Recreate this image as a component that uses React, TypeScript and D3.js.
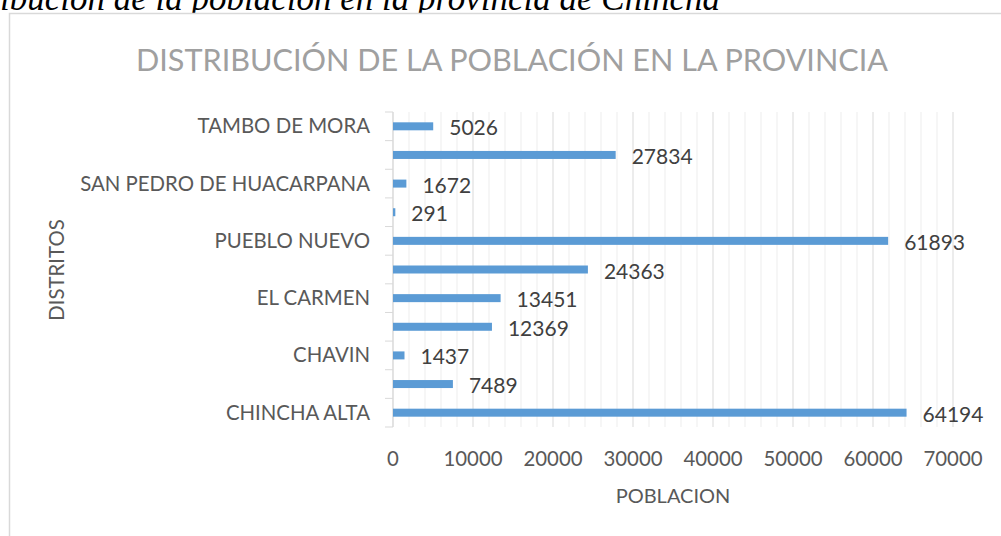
import React from "react";
import * as d3 from "d3";

// districts bottom -> top as in the source chart
const districts = [
  "CHINCHA ALTA",
  "ALTO LARAN",
  "CHAVIN",
  "CHINCHA BAJA",
  "EL CARMEN",
  "GROCIO PRADO",
  "PUEBLO NUEVO",
  "SAN JUAN DE YANAC",
  "SAN PEDRO DE HUACARPANA",
  "SUNAMPE",
  "TAMBO DE MORA",
];
const population = [64194, 7489, 1437, 12369, 13451, 24363, 61893, 291, 1672, 27834, 5026];
const xTicks = [0, 10000, 20000, 30000, 40000, 50000, 60000, 70000];

const title = "DISTRIBUCIÓN DE LA POBLACIÓN EN LA PROVINCIA";
const caption = "ibución de la población en la provincia de Chincha";

const W = 1001;
const H = 536;
const plot = { left: 393, right: 953, top: 112, bottom: 427 };
const font = "Lato, 'Open Sans', sans-serif";

export default function App() {
  const x = d3.scaleLinear().domain([0, 70000]).range([plot.left, plot.right]);
  const y = d3
    .scaleBand()
    .domain(districts.slice().reverse())
    .range([plot.top, plot.bottom])
    .paddingInner(0)
    .paddingOuter(0);
  const barH = 8;
  const minor = d3.range(0, 70001, 2000);
  const boundaries = d3.range(districts.length + 1).map((i) => plot.top + i * y.bandwidth());

  return (
    <>
      <style>{`body{margin:0}`}</style>
      <svg width={W} height={H} style={{ display: "block", background: "#fff" }}>
        {/* caption of the page, cut at the top like in the source */}
        <text
          x={0}
          y={10}
          fontFamily="'Liberation Serif', 'Times New Roman', serif"
          fontStyle="italic"
          fontSize={35}
          fill="#000"
        >
          {caption}
        </text>
        <rect x={9.5} y={13.5} width={1010} height={600} fill="#fff" stroke="#D9D9D9" strokeWidth={1.5} />

        <text x={512} y={71} textAnchor="middle" fontFamily={font} fontSize={30.6} fill="#A0A0A0">
          {title}
        </text>

        {/* gridlines */}
        {minor.map((v) => (
          <line
            key={"m" + v}
            x1={x(v)}
            x2={x(v)}
            y1={plot.top}
            y2={plot.bottom}
            stroke={v % 10000 === 0 ? "#D9D9D9" : "#EDEDED"}
            strokeWidth={1}
          />
        ))}

        {/* category axis */}
        <line x1={plot.left} x2={plot.left} y1={plot.top} y2={plot.bottom} stroke="#D9D9D9" />
        {boundaries.map((b, i) => (
          <line key={"t" + i} x1={plot.left - 8} x2={plot.left} y1={b} y2={b} stroke="#D9D9D9" />
        ))}

        {/* bars */}
        {districts.map((d, i) => {
          const cy = (y(d) as number) + y.bandwidth() / 2;
          return (
            <g key={d}>
              <rect
                x={x(0)}
                y={cy - barH / 2}
                width={x(population[i]) - x(0)}
                height={barH}
                fill="#5B9BD5"
              />
              <text
                x={x(population[i]) + 16}
                y={cy + 9}
                fontFamily={font}
                fontSize={21}
                fill="#404040"
              >
                {population[i]}
              </text>
              {i % 2 === 0 && (
                <text
                  x={370}
                  y={cy + 7}
                  textAnchor="end"
                  fontFamily={font}
                  fontSize={20.4}
                  fill="#595959"
                >
                  {d}
                </text>
              )}
            </g>
          );
        })}

        {/* value axis labels */}
        {xTicks.map((t) => (
          <text
            key={"x" + t}
            x={x(t)}
            y={466}
            textAnchor="middle"
            fontFamily={font}
            fontSize={20.4}
            fill="#595959"
          >
            {t}
          </text>
        ))}

        <text x={673} y={503} textAnchor="middle" fontFamily={font} fontSize={20} fill="#595959">
          POBLACION
        </text>
        <text
          transform={`translate(64,270) rotate(-90)`}
          textAnchor="middle"
          fontFamily={font}
          fontSize={20.4}
          fill="#595959"
        >
          DISTRITOS
        </text>
      </svg>
    </>
  );
}
